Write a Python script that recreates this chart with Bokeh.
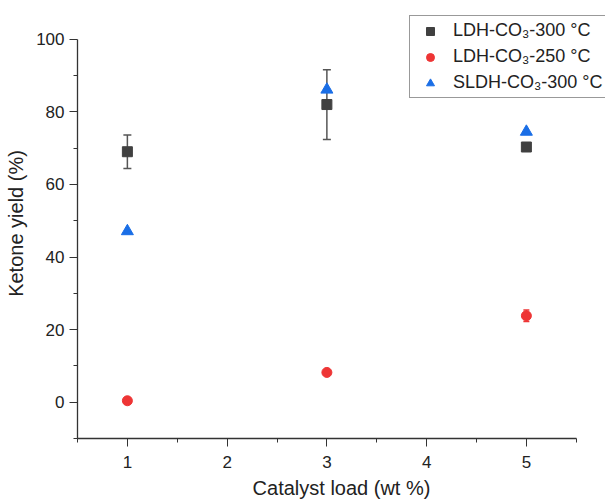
from bokeh.plotting import figure
from bokeh.models import (ColumnDataSource, Whisker, TeeHead, FixedTicker, Legend, LegendItem, Range1d)
from bokeh.embed import file_html
from bokeh.resources import INLINE

# ---- data ----
load = [1, 3, 5]
ldh_300 = [69.0, 82.0, 70.3]
ldh_300_err = [4.6, 9.6, 0.0]
ldh_250 = [0.4, 8.2, 23.8]
ldh_250_err = [0.0, 0.0, 1.6]
sldh_300 = [47.1, 86.1, 74.5]

x_ticks = [1, 2, 3, 4, 5]
x_minor = [0.5, 1.5, 2.5, 3.5, 4.5, 5.5]
y_ticks = [0, 20, 40, 60, 80, 100]
y_minor = [-10, 10, 30, 50, 70, 90]

labels = ["LDH-CO\u2083-300 \u00b0C", "LDH-CO\u2083-250 \u00b0C", "SLDH-CO\u2083-300 \u00b0C"]

FONT = "Liberation Sans"
TXT = "#222222"

# frame: x 0.5..5.5 spans 499 px, y -10..100 spans 399 px; extra room right/top for the legend
X_PX = 99.75
Y_PX = 3.63
FW, FH = 528, 430
p = figure(frame_width=FW, frame_height=FH, output_backend="svg", toolbar_location=None,
           x_range=Range1d(0.5, 0.5 + FW / X_PX), y_range=Range1d(-10, -10 + FH / Y_PX),
           min_border_left=77, min_border_right=0, min_border_top=8, min_border_bottom=63)
p.outline_line_color = None
p.xgrid.visible = False
p.ygrid.visible = False
p.background_fill_color = "white"

s1 = ColumnDataSource(dict(x=load, y=ldh_300, up=[a + b for a, b in zip(ldh_300, ldh_300_err)],
                           lo=[a - b for a, b in zip(ldh_300, ldh_300_err)]))
s2 = ColumnDataSource(dict(x=load, y=ldh_250, up=[a + b for a, b in zip(ldh_250, ldh_250_err)],
                           lo=[a - b for a, b in zip(ldh_250, ldh_250_err)]))
s3 = ColumnDataSource(dict(x=load, y=sldh_300))

w1 = Whisker(source=s1, base="x", upper="up", lower="lo", dimension="height",
             line_color="#555555", line_width=1.5,
             upper_head=TeeHead(size=8, line_color="#555555", line_width=1.5),
             lower_head=TeeHead(size=8, line_color="#555555", line_width=1.5))
w2 = Whisker(source=s2, base="x", upper="up", lower="lo", dimension="height",
             line_color="#ee3535", line_width=1.5,
             upper_head=TeeHead(size=6, line_color="#ee3535", line_width=1.5),
             lower_head=TeeHead(size=6, line_color="#ee3535", line_width=1.5))
p.add_layout(w1)
p.add_layout(w2)

r1 = p.scatter("x", "y", source=s1, marker="square", size=10, fill_color="#404040", line_color="#404040")
r3 = p.scatter("x", "y", source=s3, marker="triangle", size=12, fill_color="#1a6ee6", line_color="#1a6ee6")
r2 = p.scatter("x", "y", source=s2, marker="circle", size=10, fill_color="#ee3535", line_color="#ee3535")

# axes
p.xaxis.ticker = FixedTicker(ticks=x_ticks, minor_ticks=x_minor)
p.yaxis.ticker = FixedTicker(ticks=y_ticks, minor_ticks=y_minor)
p.xaxis.bounds = (0.5, 5.5)
p.yaxis.bounds = (-10, 100)
for ax in (p.xaxis[0], p.yaxis[0]):
    ax.axis_line_color = "#333333"
    ax.axis_line_width = 1.3
    ax.major_tick_line_color = "#333333"
    ax.minor_tick_line_color = "#333333"
    ax.major_tick_in = 0
    ax.major_tick_out = 8
    ax.minor_tick_in = 0
    ax.minor_tick_out = 4
    ax.major_label_text_font = FONT
    ax.major_label_text_font_size = "17px"
    ax.major_label_text_color = TXT
    ax.axis_label_text_font = FONT
    ax.axis_label_text_font_size = "20px"
    ax.axis_label_text_font_style = "normal"
    ax.axis_label_text_color = TXT
p.xaxis.axis_label = "Catalyst load (wt %)"
p.yaxis.axis_label = "Ketone yield (%)"
p.xaxis.major_label_standoff = 9
p.yaxis.major_label_standoff = 5
p.xaxis.axis_label_standoff = 6
p.yaxis.axis_label_standoff = 6

legend = Legend(items=[LegendItem(label=labels[0], renderers=[r1]),
                       LegendItem(label=labels[1], renderers=[r2]),
                       LegendItem(label=labels[2], renderers=[r3])],
                location=(332, 340))
legend.label_text_font = FONT
legend.label_text_font_size = "18px"
legend.label_text_color = TXT
legend.border_line_color = "#333333"
legend.border_line_width = 1
legend.background_fill_color = "white"
legend.padding = 4
legend.margin = 0
legend.spacing = 5
legend.glyph_width = 32
legend.glyph_height = 20
legend.label_height = 20
legend.label_standoff = 7
p.add_layout(legend)

open("out.html", "w").write(file_html(p, INLINE))
